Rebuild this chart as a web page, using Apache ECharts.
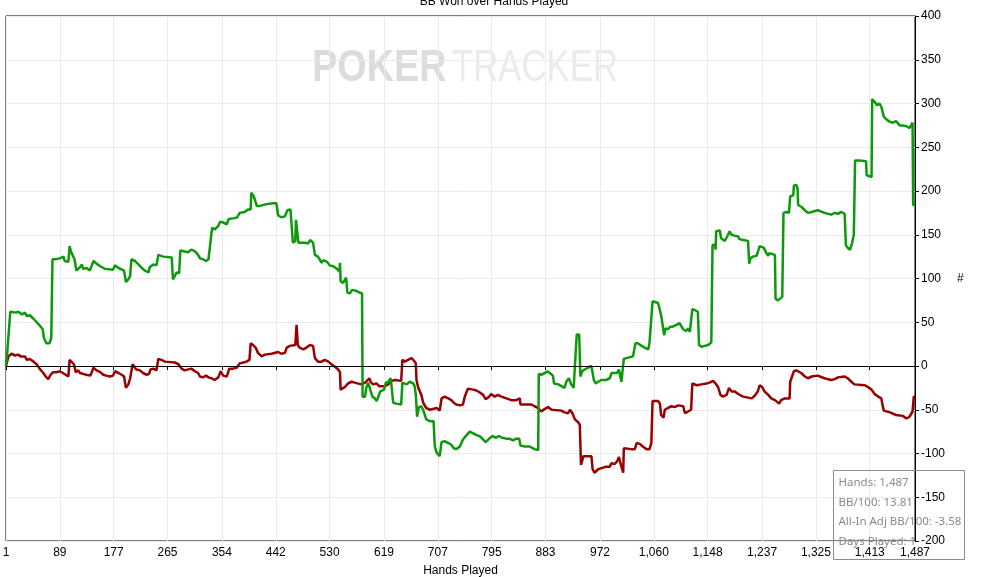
<!DOCTYPE html>
<html>
<head>
<meta charset="utf-8">
<script src="https://cdn.jsdelivr.net/npm/echarts@6/dist/echarts.min.js"></script>
<style>
html,body{margin:0;padding:0;background:#fff;}
#chart{width:988px;height:577px;}
</style>
</head>
<body>
<div id="chart"></div>
<script>
// ---- data ----
const handCount = 1487;
const tickLabels = [1, 89, 177, 265, 354, 442, 530, 619, 707, 795, 883, 972, 1060, 1148, 1237, 1325, 1413, 1487];

// BB Won (green)
const bbWonHands = [1,3,8,17,21,27,32,35,40,46,54,61,63,67,72,75,77,81,89,92,95,97,103,105,107,110,113,116,119,122,125,127,133,138,144,149,155,163,176,179,185,194,197,201,204,206,212,219,223,228,234,236,242,247,250,258,272,273,274,277,280,284,286,299,304,310,315,318,323,328,332,335,338,342,348,351,356,362,365,375,379,383,391,397,401,402,406,411,416,427,438,443,446,451,457,461,466,469,470,474,475,477,479,482,490,495,498,503,506,511,517,520,526,530,536,542,546,547,548,552,557,559,563,567,573,579,583,584,588,590,593,596,600,604,607,610,613,619,622,626,630,633,634,639,647,649,656,661,667,669,671,673,676,680,683,688,694,697,700,702,705,710,713,718,724,729,733,737,743,746,748,754,759,765,770,775,781,785,791,796,802,807,812,819,824,830,835,840,842,849,857,865,871,872,876,882,886,890,895,897,904,909,914,917,921,925,929,932,934,938,940,943,947,952,958,961,962,965,969,974,982,988,991,994,1000,1003,1005,1007,1010,1011,1015,1026,1030,1034,1040,1045,1051,1053,1056,1058,1061,1067,1070,1072,1075,1077,1079,1083,1087,1091,1097,1102,1105,1108,1111,1113,1116,1119,1121,1123,1127,1132,1134,1138,1143,1149,1154,1156,1160,1161,1162,1168,1170,1176,1180,1184,1187,1192,1198,1200,1206,1214,1216,1218,1222,1228,1230,1233,1236,1240,1244,1247,1249,1252,1258,1259,1263,1266,1270,1272,1277,1281,1283,1288,1289,1293,1295,1296,1301,1307,1312,1318,1328,1339,1350,1356,1361,1367,1372,1374,1377,1381,1384,1387,1389,1396,1407,1408,1416,1417,1421,1425,1429,1432,1435,1436,1440,1446,1451,1456,1462,1467,1473,1478,1483,1484,1487];
const bbWonValues = [0,15,62,61,62,59,61,57,58,54,48,42,32,26,26,32,122,122,123,122,125,120,119,137,131,129,122,109,110,113,116,111,112,109,120,117,114,111,110,115,112,109,96,99,103,122,120,115,112,109,107,113,116,115,127,125,124,110,99,103,107,106,132,130,133,131,127,123,122,120,122,120,158,156,160,165,164,162,168,169,170,175,176,179,179,198,194,183,183,185,186,186,172,170,171,178,179,178,141,143,167,167,141,139,141,140,144,141,127,125,118,121,119,115,114,111,108,118,97,95,101,84,83,87,86,84,83,-35,-35,-25,-19,-21,-35,-37,-40,-42,-29,-27,-19,-18,-14,-15,-42,-43,-44,-19,-21,-18,-20,-23,-33,-58,-47,-46,-50,-61,-63,-65,-63,-92,-99,-103,-87,-86,-88,-90,-94,-95,-92,-90,-84,-79,-75,-77,-79,-80,-84,-87,-83,-80,-82,-80,-82,-83,-83,-85,-83,-83,-91,-92,-92,-95,-96,-9,-10,-8,-6,-8,-11,-20,-21,-23,-25,-18,-14,-21,-25,-27,36,36,-12,-6,-4,-2,0,0,-16,-20,-18,-16,-16,-14,-8,-9,-8,-4,-3,-18,-20,8,9,11,26,26,23,21,19,27,28,74,74,72,70,58,56,35,43,42,45,45,47,49,50,42,40,40,43,39,38,65,64,62,24,22,23,24,27,138,139,133,154,155,146,143,148,154,150,149,148,145,144,143,117,123,125,126,130,137,136,135,129,126,129,130,127,77,75,75,79,175,176,175,194,195,206,207,203,184,182,178,175,176,178,175,173,175,174,176,174,138,135,133,140,150,235,235,234,218,216,305,302,298,300,296,296,285,282,279,278,280,275,275,274,272,278,184,184];

// All-In Adj BB (red)
const allInHands = [1,5,10,16,21,25,28,32,35,40,46,51,57,62,66,70,74,78,84,89,94,97,103,105,108,112,115,119,122,125,127,132,135,139,144,149,155,160,165,171,176,179,185,190,194,197,201,204,208,210,214,220,225,231,235,237,242,247,250,255,261,277,283,288,293,304,310,315,318,323,328,332,337,342,348,352,356,362,366,372,378,383,389,394,399,401,405,409,413,419,424,435,446,451,457,460,465,474,476,478,481,487,492,498,503,506,511,517,522,528,533,539,544,547,548,555,560,566,571,582,588,591,595,597,601,607,611,620,626,631,637,647,649,653,658,664,668,671,672,675,680,683,688,694,705,710,713,718,724,729,733,737,743,748,751,756,759,765,770,775,781,785,791,794,800,805,811,819,827,835,841,842,860,865,871,876,882,887,893,909,914,920,923,927,931,936,939,941,943,945,958,960,963,966,969,982,988,991,996,1000,1003,1005,1007,1010,1011,1023,1029,1032,1037,1042,1048,1053,1056,1058,1061,1067,1070,1072,1076,1078,1083,1089,1094,1100,1102,1108,1111,1113,1116,1121,1123,1130,1138,1146,1151,1157,1161,1165,1169,1173,1179,1183,1187,1192,1198,1206,1220,1225,1230,1233,1237,1241,1247,1252,1258,1265,1268,1274,1282,1283,1286,1289,1293,1296,1301,1307,1312,1318,1328,1339,1350,1356,1361,1372,1377,1383,1388,1405,1410,1416,1421,1427,1432,1434,1436,1446,1456,1467,1473,1478,1483,1485,1487];
const allInValues = [0,11,14,12,13,11,13,11,7,8,5,2,-4,-8,-12,-15,-10,-7,-7,-6,-8,-9,-12,7,5,2,-7,-5,-8,-6,-9,-10,-12,-11,-2,-5,-7,-10,-11,-12,-11,-6,-8,-10,-12,-25,-21,-14,2,0,-4,-5,-8,-10,-9,-4,-3,-5,8,7,5,4,2,-3,-5,-3,-6,-8,-12,-13,-11,-13,-14,-16,-13,-6,-11,-12,-3,-3,-2,3,4,5,7,26,24,21,15,11,13,14,16,14,15,21,23,24,47,24,21,19,21,24,23,9,5,5,7,5,2,-1,-4,-7,-27,-24,-20,-18,-19,-21,-19,-18,-14,-18,-21,-20,-23,-23,-21,-17,-16,-17,7,5,7,9,6,3,-16,-25,-33,-42,-48,-50,-48,-51,-37,-35,-37,-39,-42,-44,-45,-44,-35,-26,-26,-27,-28,-30,-33,-38,-35,-32,-35,-33,-35,-37,-39,-39,-37,-44,-44,-46,-48,-52,-49,-47,-50,-51,-53,-54,-50,-54,-61,-64,-67,-113,-113,-103,-103,-118,-122,-122,-118,-115,-115,-111,-112,-109,-104,-103,-115,-122,-94,-95,-95,-88,-89,-92,-95,-95,-88,-40,-39,-40,-43,-56,-59,-50,-48,-46,-47,-45,-43,-46,-54,-55,-52,-50,-20,-22,-21,-20,-19,-17,-20,-24,-33,-35,-33,-25,-29,-29,-32,-35,-37,-34,-29,-22,-24,-29,-33,-37,-39,-43,-39,-37,-37,-18,-20,-6,-5,-7,-8,-12,-14,-12,-11,-14,-16,-15,-13,-12,-14,-18,-21,-22,-24,-27,-32,-35,-37,-45,-51,-53,-56,-57,-60,-58,-52,-35,-35];

const statLines = ['Hands: 1,487', 'BB/100: 13.81', 'All-In Adj BB/100: -3.58', 'Days Played: 1'];

// ---- chart ----
const categories = Array.from({length: handCount}, (_, i) => String(i + 1));
const tickIdx = new Set(tickLabels.map(h => h - 1));
const showTick = (idx) => tickIdx.has(idx);
const fmt = (v) => Number(v).toLocaleString('en-US');

const el = document.getElementById('chart');
const chart = echarts.init(el, null, {renderer: 'canvas'});
const FONT = '"Liberation Sans", Arial, sans-serif';

const statGraphics = statLines.map((t, i) => ({
  type: 'text', z: 101, silent: true,
  x: 838.5, y: 482.7 + i * 19.7,
  style: {text: t, fill: '#8a8a8a', font: '11.5px "Noto Sans", sans-serif', textVerticalAlign: 'middle', textAlign: 'left'}
}));

chart.setOption({
  animation: false,
  backgroundColor: '#fff',
  title: {
    text: 'BB Won over Hands Played', left: 'center', top: -9,
    textStyle: {fontSize: 12, fontWeight: 'normal', color: '#000', fontFamily: FONT}
  },
  grid: {left: 6, right: 73, top: 16, bottom: 36, show: true, borderColor: '#000', borderWidth: 1,
         containLabel: false, outerBoundsMode: 'none'},
  xAxis: {
    type: 'category', data: categories, boundaryGap: false,
    name: 'Hands Played', nameLocation: 'middle', nameGap: 24,
    nameTextStyle: {color: '#000', fontSize: 12, fontFamily: FONT},
    axisLine: {show: true, lineStyle: {color: '#000', width: 1}},
    axisTick: {show: true, interval: showTick, length: 4, lineStyle: {color: '#000'}},
    axisLabel: {interval: showTick, formatter: fmt, margin: 6, color: '#000', fontSize: 12, fontFamily: FONT},
    splitLine: {show: true, interval: showTick, lineStyle: {color: '#ebebeb', width: 1}}
  },
  yAxis: {
    type: 'value', position: 'right', min: -200, max: 400, interval: 50,
    name: '#', nameLocation: 'middle', nameGap: 42, nameRotate: 0,
    nameTextStyle: {color: '#000', fontSize: 12, fontFamily: FONT},
    axisLine: {show: true, lineStyle: {color: '#000', width: 1}},
    axisTick: {show: true, length: 4, lineStyle: {color: '#000'}},
    axisLabel: {margin: 6, color: '#000', fontSize: 12, fontFamily: FONT},
    splitLine: {show: true, lineStyle: {color: '#ebebeb', width: 1}}
  },
  graphic: [
    {type: 'text', z: 0, silent: true, x: 312, y: 47, scaleX: 0.86,
     style: {text: 'POKER', font: 'bold 44px "Liberation Sans"', fill: '#dcdcdc', textVerticalAlign: 'top'}},
    {type: 'text', z: 0, silent: true, x: 452, y: 47, scaleX: 0.79,
     style: {text: 'TRACKER', font: '44px "Liberation Sans"', fill: '#ebebeb', textVerticalAlign: 'top'}},
    {type: 'rect', z: 100, silent: true,
     shape: {x: 833.5, y: 470.5, width: 131, height: 89},
     style: {fill: 'rgba(255,255,255,0)', stroke: '#8c8c8c', lineWidth: 1}},
    ...statGraphics
  ],
  series: [
    {
      name: 'All-In Adj BB Won', type: 'line', showSymbol: false, z: 3,
      data: allInHands.map((h, i) => [String(h), allInValues[i]]),
      lineStyle: {color: '#9b0000', width: 2.5}, itemStyle: {color: '#9b0000'},
      markLine: {
        silent: true, symbol: 'none', label: {show: false},
        lineStyle: {color: '#000', width: 1, type: 'solid'},
        data: [{yAxis: 0}]
      }
    },
    {
      name: 'BB Won', type: 'line', showSymbol: false, z: 4,
      data: bbWonHands.map((h, i) => [String(h), bbWonValues[i]]),
      lineStyle: {color: '#0c9a0c', width: 2.5}, itemStyle: {color: '#0c9a0c'}
    }
  ]
});
</script>
</body>
</html>
